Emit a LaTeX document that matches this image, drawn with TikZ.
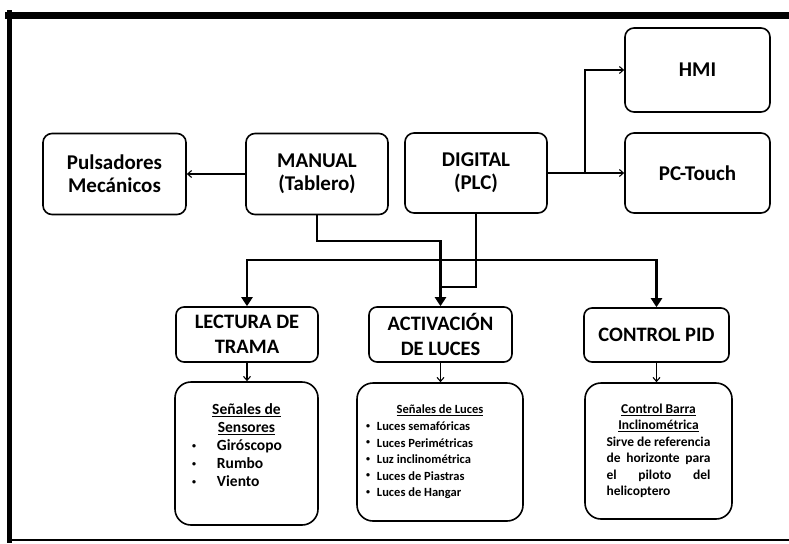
\documentclass[tikz,border=0pt]{standalone}
\usepackage{fontspec}
\setmainfont{Carlito}
\usetikzlibrary{arrows.meta}
\newcommand{\smallbul}{\raisebox{0.18em}{\fontsize{8}{8}\selectfont\textbullet}}
\begin{document}
\begin{tikzpicture}[x=1pt,y=-1pt,
  topbox/.style={draw, line width=1.6pt, rounded corners=9pt, align=center, inner sep=2pt,
    font=\fontsize{21}{23}\selectfont\bfseries},
  midbox/.style={draw, line width=1.6pt, rounded corners=8pt, align=center, inner sep=2pt,
    font=\fontsize{20.5}{25}\selectfont\bfseries},
  lowbox/.style={draw, line width=1.6pt, rounded corners=16pt, align=center, inner sep=2pt},
  thinarrow/.style={line width=1.1pt, -{Straight Barb[length=4pt,width=7pt]}},
  thickline/.style={line width=2.8pt},
  thickarrow/.style={line width=2.8pt, -{Triangle[length=9pt,width=11pt]}},
  framestroke/.style={line cap=rect}
]
\useasboundingbox (0,0) rectangle (789,543);
% frame
\draw[framestroke, line width=7pt] (8,15.5) -- (789,15.5);
\draw[framestroke, line width=5pt] (9.5,13) -- (9.5,540);
\draw[line width=2.4pt] (8,540) -- (789,540);

% top row
\node[topbox, minimum width=143pt, minimum height=81pt] (puls) at (114.5,174) {Pulsadores\\Mecánicos};
\node[topbox, minimum width=142pt, minimum height=81pt] (manual) at (317,174) {MANUAL\\(Tablero)};
\node[topbox, minimum width=142pt, minimum height=80pt] (digital) at (476,173) {DIGITAL\\(PLC)};
\node[topbox, minimum width=145pt, minimum height=84pt] (hmi) at (697.5,70) {HMI};
\node[topbox, minimum width=145pt, minimum height=80pt] (pctouch) at (697.5,173) {PC-Touch};

% middle row
\node[midbox, minimum width=142pt, minimum height=55pt] (lectura) at (247,334.5) {LECTURA DE\\TRAMA};
\node[midbox, minimum width=143pt, minimum height=55pt] (activ) at (440.5,334.5) {ACTIVACIÓN\\DE LUCES};
\node[midbox, minimum width=145pt, minimum height=54pt] (pid) at (656.5,335) {CONTROL PID};

% bottom row
\node[lowbox, minimum width=143pt, minimum height=143pt,
  font=\fontsize{15.5}{18}\selectfont\bfseries] (sens) at (246.5,453.5)
  {\underline{Señales de}\\
   \underline{Sensores}\\
   \makebox[109pt][l]{\smallbul\hspace{21pt}Giróscopo}\\
   \makebox[109pt][l]{\smallbul\hspace{21pt}Rumbo}\\
   \makebox[109pt][l]{\smallbul\hspace{21pt}Viento}\rule[-16pt]{0pt}{16pt}};
\node[lowbox, minimum width=166pt, minimum height=138pt,
  font=\fontsize{12.5}{16.6}\selectfont\bfseries] (luces) at (440,452)
  {\underline{Señales de Luces}\\
   \makebox[148pt][l]{\smallbul\hspace{7pt}Luces semafóricas}\\
   \makebox[148pt][l]{\smallbul\hspace{7pt}Luces Perimétricas}\\
   \makebox[148pt][l]{\smallbul\hspace{7pt}Luz inclinométrica}\\
   \makebox[148pt][l]{\smallbul\hspace{7pt}Luces de Piastras}\\
   \makebox[148pt][l]{\smallbul\hspace{7pt}Luces de Hangar}};
\node[lowbox, minimum width=147pt, minimum height=136pt,
  font=\fontsize{13.5}{16.5}\selectfont\bfseries] (barra) at (658.5,451)
  {\underline{Control Barra}\\
   \underline{Inclinométrica}\\
   \makebox[104pt][s]{Sirve de referencia}\\
   \makebox[104pt][s]{de horizonte para}\\
   \makebox[104pt][s]{el piloto del}\\
   \makebox[104pt][l]{helicoptero}};

% thin connectors
\draw[thinarrow] (manual.west) -- (puls.east);
\draw[thinarrow] (digital.east) -- (pctouch.west);
\coordinate (split) at (585,173);
\draw[thinarrow] (split) |- (hmi.west);

% thick connectors
\coordinate (mturn) at (440.5,241);
\draw[thickarrow] (manual.south) |- (mturn) -- (activ.north);
\coordinate (dturn) at (440.5,287);
\draw[thickline] (digital.south) |- (dturn);
\coordinate (bus) at (476,260);
\draw[thickarrow] (bus) -| (lectura.north);
\draw[thickarrow] (bus) -| (pid.north);

% down arrows
\draw[thinarrow] (lectura.south) -- (lectura.south |- sens.north);
\draw[thinarrow] (activ.south) -- (activ.south |- luces.north);
\draw[thinarrow] (pid.south) -- (pid.south |- barra.north);
\end{tikzpicture}
\end{document}
